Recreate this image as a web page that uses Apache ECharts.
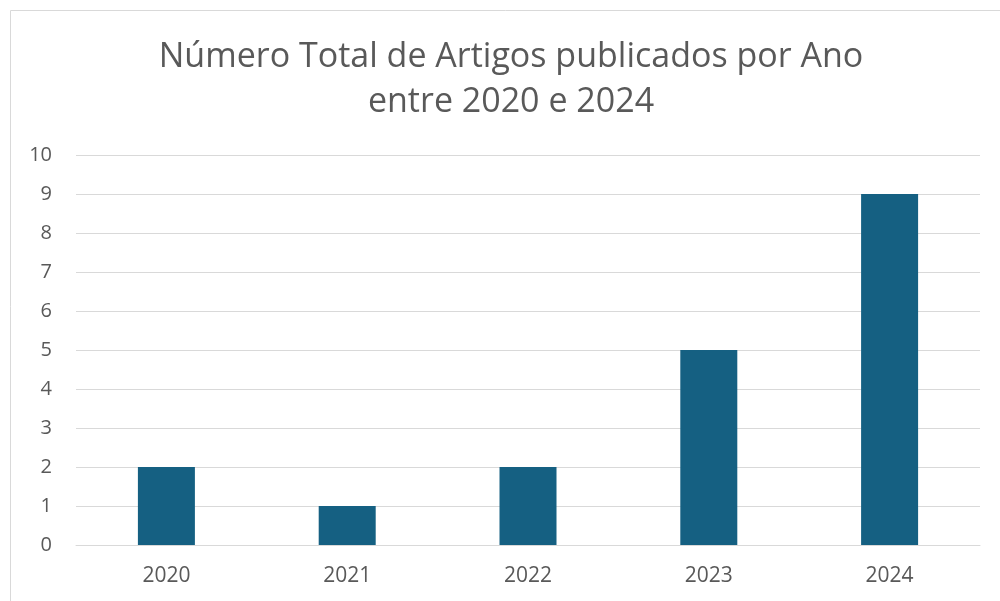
<!DOCTYPE html>
<html>
<head>
<meta charset="utf-8">
<script src="https://cdn.jsdelivr.net/npm/echarts@6/dist/echarts.min.js"></script>
<style>
    html, body { margin: 0; padding: 0; background: #fff; }
    #chart { width: 1000px; height: 601px; }
</style>
</head>
<body>
<div id="chart"></div>
<script>
    const years = ['2020', '2021', '2022', '2023', '2024'];
    const artigos = [2, 1, 2, 5, 9];
    const titleLines = ['Número Total de Artigos publicados por Ano', 'entre 2020 e 2024'];

    const myChart = echarts.init(document.getElementById('chart'));
    const font = '"Open Sans", "Noto Sans", sans-serif';

    const option = {
        animation: false,
        textStyle: { fontFamily: font },
        graphic: [{
            type: 'rect',
            shape: { x: 10.5, y: 10.5, width: 1000, height: 600 },
            style: { fill: 'none', stroke: '#d9d9d9', lineWidth: 1 }
        }],
        title: {
            text: titleLines.join('\n'),
            // centred on the framed area, which starts at x=10
            left: 506,
            textAlign: 'center',
            top: 30,
            textStyle: {
                fontFamily: font,
                fontSize: 34,
                fontWeight: 'normal',
                color: '#595959',
                lineHeight: 45
            }
        },
        grid: { left: 76, right: 20, top: 155, bottom: 56 },
        xAxis: {
            type: 'category',
            data: years,
            axisLine: { lineStyle: { color: '#d9d9d9', width: 1 } },
            axisTick: { show: false },
            axisLabel: { color: '#595959', fontSize: 21, margin: 21 }
        },
        yAxis: {
            type: 'value',
            min: 0,
            max: 10,
            interval: 1,
            axisLine: { show: false },
            axisTick: { show: false },
            splitLine: { lineStyle: { color: '#d9d9d9', width: 1 } },
            axisLabel: { color: '#595959', fontSize: 20, margin: 24 }
        },
        series: [{
            type: 'bar',
            data: artigos,
            barWidth: 57,
            itemStyle: { color: '#156082' }
        }]
    };
    myChart.setOption(option);
</script>
</body>
</html>
